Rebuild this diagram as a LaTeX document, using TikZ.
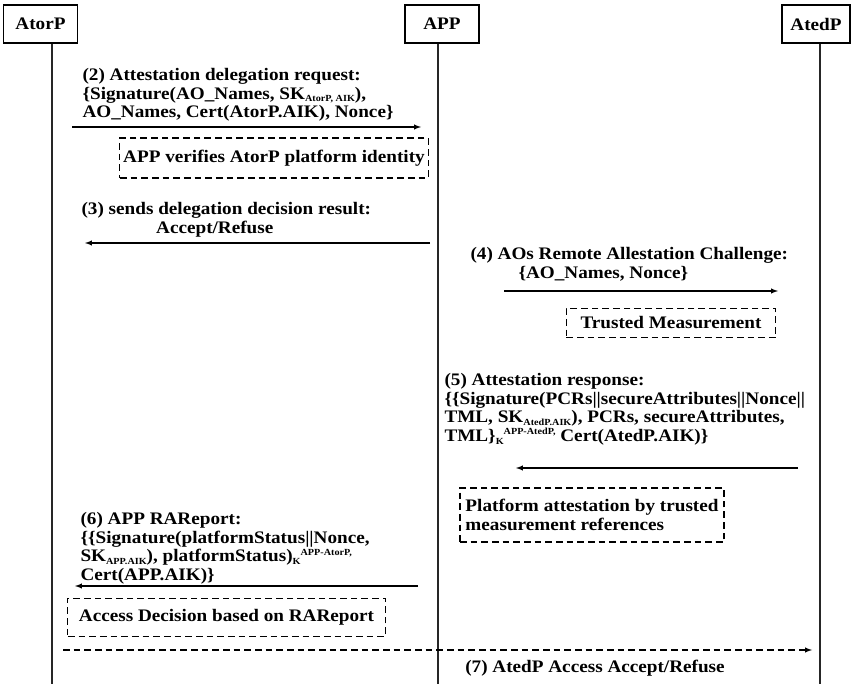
\documentclass[tikz,border=0pt]{standalone}
\usepackage{fontspec}
\setmainfont{Liberation Serif}[FakeStretch=1.09]
\usetikzlibrary{arrows,positioning}
\newcommand{\msgfont}{\fontsize{13.2}{13.9}\selectfont\bfseries}
\newcommand{\sidx}[1]{\raisebox{-2pt}{\fontsize{7}{8}\selectfont #1}}
\newcommand{\supidx}[1]{\raisebox{5pt}{\fontsize{7}{8}\selectfont #1}}
\tikzset{actor/.style={rectangle, draw, minimum height=28.5pt, inner sep=0pt, font=\msgfont}}
\tikzset{note/.style={rectangle, draw, dash pattern=on 5pt off 3pt, inner xsep=2.5pt, inner ysep=0pt, align=left, font=\msgfont}}
\tikzset{msg/.style={inner sep=0pt, align=left, anchor=north west, font=\msgfont}}
\tikzset{line/.style={draw, -latex}}
\tikzstyle{life} = [draw, line width=1pt, black!85]

\begin{document}
\begin{tikzpicture}[x=0.75pt, y=-0.75pt, line width=0.8pt]
\useasboundingbox (0,0) rectangle (851,684);
        \node[actor, minimum width=56pt] (AtorP) at (40.5,24) {AtorP};
        \node[actor, minimum width=55.5pt] (APP) at (442,24) {APP};
        \node[actor, minimum width=51pt] (AtedP) at (816,24) {AtedP};
        \coordinate (AtorPend) at (52,684);
        \coordinate (APPend) at (438,684);
        \coordinate (AtedPend) at (820,684);
        \path[life] (AtorP.south -| AtorPend) -- (AtorPend);
        \path[life] (APP.south -| APPend) -- (APPend);
        \path[life] (AtedP.south -| AtedPend) -- (AtedPend);
        % (2)
        \node[msg] (req) at (82,68) {(2) Attestation delegation request:\\
          \{Signature(AO\_Names, SK\sidx{AtorP, AIK}),\\
          AO\_Names, Cert(AtorP.AIK), Nonce\}};
        \coordinate (m2s) at (72,127);
        \coordinate (m2e) at (421,127);
        \path[line] (m2s) -- (m2e);
        \node[note, minimum width=231pt, minimum height=30pt] (verify) at (274,158) {APP verifies AtorP platform identity};
        % (3)
        \node[msg] (dec) at (81,202) {(3) sends delegation decision result:\\
          \hspace*{56pt}Accept/Refuse};
        \coordinate (m3s) at (430,243);
        \coordinate (m3e) at (85,243);
        \path[line] (m3s) -- (m3e);
        % (4)
        \node[msg] (chal) at (470,247) {(4) AOs Remote Allestation Challenge:\\
          \hspace*{36pt}\{AO\_Names, Nonce\}};
        \coordinate (m4s) at (504,291);
        \coordinate (m4e) at (778,291);
        \path[line] (m4s) -- (m4e);
        \node[note, minimum width=157pt, minimum height=22pt] (meas) at (671,323) {Trusted Measurement};
        % (5)
        \node[msg] (resp) at (444,373) {(5) Attestation response:\\
          \{\{Signature(PCRs\textbar\textbar secureAttributes\textbar\textbar Nonce\textbar\textbar\\
          TML, SK\sidx{AtedP.AIK}), PCRs, secureAttributes,\\
          TML\}\sidx{K}\supidx{APP-AtedP,} Cert(AtedP.AIK)\}};
        \coordinate (m5s) at (798,468);
        \coordinate (m5e) at (516,468);
        \path[line] (m5s) -- (m5e);
        \node[note, minimum width=198pt, minimum height=40.5pt] (plat) at (592,515) {Platform attestation by trusted\\measurement references};
        % (6)
        \node[msg] (rep) at (80,512) {(6) APP RAReport:\\
          \{\{Signature(platformStatus\textbar\textbar Nonce,\\
          SK\sidx{APP.AIK}), platformStatus)\sidx{K}\supidx{APP-AtorP,}\\
          Cert(APP.AIK)\}};
        \coordinate (m6s) at (418,586);
        \coordinate (m6e) at (75,586);
        \path[line] (m6s) -- (m6e);
        \node[note, minimum width=238pt, minimum height=29pt] (acc) at (226.5,617.5) {Access Decision based on RAReport};
        % (7)
        \coordinate (m7s) at (63,650);
        \coordinate (m7e) at (812,650);
        \path[line, dash pattern=on 5pt off 3pt] (m7s) -- (m7e);
        \node[msg, anchor=center] (res) at (595,668) {(7) AtedP Access Accept/Refuse};
\end{tikzpicture}
\end{document}
